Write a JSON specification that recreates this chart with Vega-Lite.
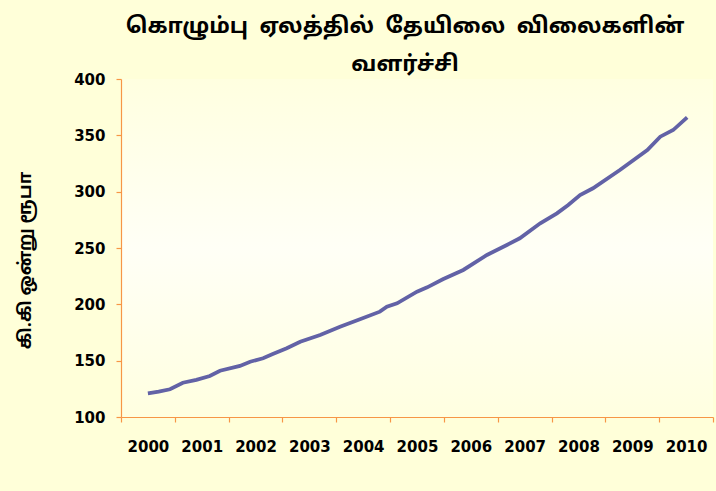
{
  "$schema": "https://vega.github.io/schema/vega-lite/v6.json",
  "width": 592,
  "height": 338,
  "autosize": {"type": "none"},
  "padding": {"left": 121, "top": 79, "right": 3, "bottom": 74},
  "background": "#FFFFD9",
  "config": {
    "font": "DejaVu Sans",
    "view": {
      "stroke": null,
      "fill": {
        "gradient": "linear",
        "x1": 0, "y1": 0, "x2": 0, "y2": 1,
        "stops": [
          {"offset": 0, "color": "#FFFFE0"},
          {"offset": 0.5, "color": "#FFFFF6"},
          {"offset": 1, "color": "#FFFFE0"}
        ]
      }
    }
  },
  "title": {
    "text": ["கொழும்பு\u00a0\u00a0ஏலத்தில்\u00a0\u00a0தேயிலை\u00a0\u00a0விலைகளின்", "வளர்ச்சி"],
    "font": "Noto Sans Tamil, Lohit Tamil, Noto Sans, sans-serif",
    "fontSize": 22,
    "fontWeight": "bold",
    "color": "black",
    "anchor": "middle",
    "frame": "group",
    "lineHeight": 38,
    "offset": -4,
    "dx": -12
  },
  "data": {
    "values": [
      {"year": 2000.0, "price": 121.0},
      {"year": 2000.2, "price": 122.5},
      {"year": 2000.41, "price": 124.6},
      {"year": 2000.65, "price": 130.4},
      {"year": 2000.9, "price": 133.0},
      {"year": 2001.15, "price": 136.4},
      {"year": 2001.34, "price": 141.1},
      {"year": 2001.71, "price": 145.3},
      {"year": 2001.9, "price": 149.1},
      {"year": 2002.14, "price": 152.1},
      {"year": 2002.32, "price": 155.9},
      {"year": 2002.58, "price": 161.0},
      {"year": 2002.83, "price": 166.8},
      {"year": 2003.2, "price": 172.8},
      {"year": 2003.57, "price": 180.1},
      {"year": 2003.94, "price": 186.7},
      {"year": 2004.31, "price": 193.5},
      {"year": 2004.44, "price": 197.9},
      {"year": 2004.63, "price": 200.9},
      {"year": 2005.0, "price": 211.2},
      {"year": 2005.19, "price": 215.1},
      {"year": 2005.48, "price": 222.2},
      {"year": 2005.86, "price": 230.5},
      {"year": 2006.3, "price": 243.8},
      {"year": 2006.67, "price": 252.7},
      {"year": 2006.91, "price": 258.6},
      {"year": 2007.29, "price": 271.9},
      {"year": 2007.6, "price": 280.8},
      {"year": 2007.81, "price": 288.2},
      {"year": 2008.03, "price": 297.0},
      {"year": 2008.27, "price": 303.0},
      {"year": 2008.77, "price": 319.2},
      {"year": 2009.28, "price": 337.0},
      {"year": 2009.52, "price": 348.8},
      {"year": 2009.76, "price": 354.7},
      {"year": 2010.02, "price": 366.0}
    ]
  },
  "mark": {"type": "line", "color": "#6262A6", "strokeWidth": 3.8},
  "encoding": {
    "x": {
      "field": "year",
      "type": "quantitative",
      "scale": {"domain": [1999.5, 2010.5], "nice": false, "zero": false},
      "axis": {
        "title": null,
        "values": [1999.5, 2000.5, 2001.5, 2002.5, 2003.5, 2004.5, 2005.5, 2006.5, 2007.5, 2008.5, 2009.5, 2010.5],
        "labelExpr": "datum.value > 2010 ? '' : format(datum.value + 0.5, 'd')",
        "labelOffset": 26.9,
        "labelFlush": false,
        "labelOverlap": false,
        "grid": false,
        "domainColor": "#F79646",
        "domainWidth": 1.2,
        "tickColor": "#F79646",
        "tickWidth": 1.2,
        "tickSize": 5,
        "labelFont": "DejaVu Sans",
        "labelFontSize": 15,
        "labelFontWeight": "bold",
        "labelColor": "black",
        "labelPadding": 17
      }
    },
    "y": {
      "field": "price",
      "type": "quantitative",
      "scale": {"domain": [100, 400], "nice": false, "zero": false},
      "axis": {
        "title": "கி.கி ஒன்று ரூபா",
        "values": [100, 150, 200, 250, 300, 350, 400],
        "grid": false,
        "domainColor": "#F79646",
        "domainWidth": 1.2,
        "tickColor": "#F79646",
        "tickWidth": 1.2,
        "tickSize": 5,
        "labelFont": "DejaVu Sans",
        "labelFontSize": 15,
        "labelFontWeight": "bold",
        "labelColor": "black",
        "labelPadding": 11,
        "titleFont": "Noto Sans Tamil, Lohit Tamil, Noto Sans, sans-serif",
        "titleFontSize": 18,
        "titleFontWeight": "bold",
        "titleColor": "black",
        "titleAngle": 270,
        "titleAlign": "center",
        "titleBaseline": "middle",
        "titleX": -96,
        "titleY": 181
      }
    }
  }
}
